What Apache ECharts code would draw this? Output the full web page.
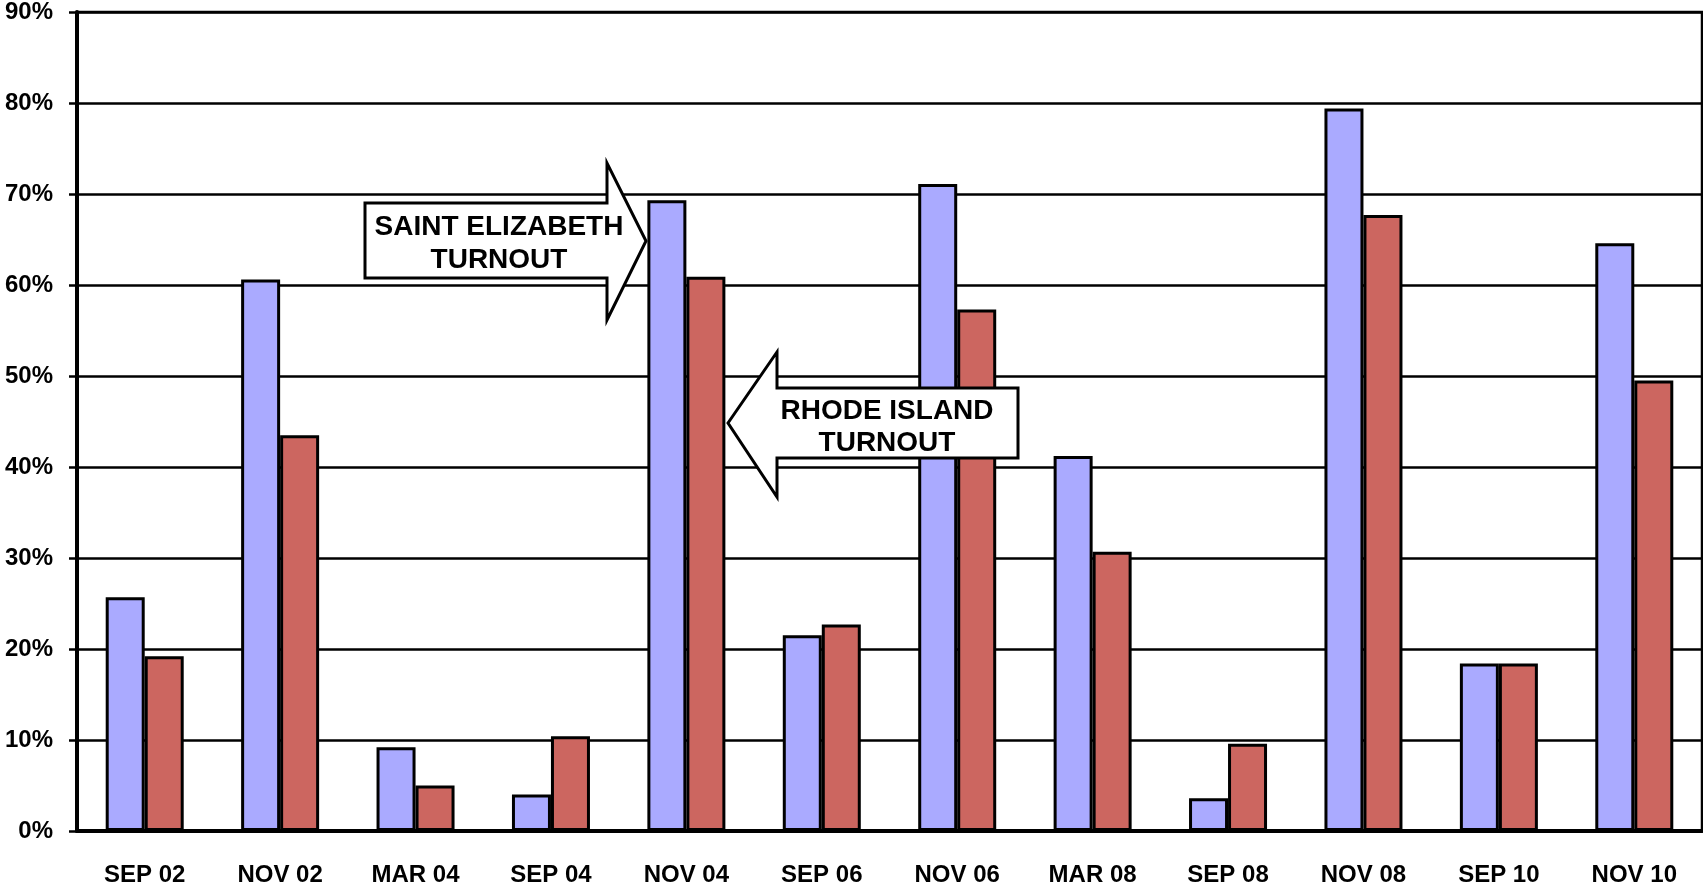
<!DOCTYPE html>
<html>
<head>
<meta charset="utf-8">
<script src="https://cdn.jsdelivr.net/npm/echarts@6/dist/echarts.min.js"></script>
<style>
  html, body { margin: 0; padding: 0; background: #fff; }
  #chart { width: 1703px; height: 887px; }
</style>
</head>
<body>
<div id="chart"></div>
<script>
var categories = ['SEP 02', 'NOV 02', 'MAR 04', 'SEP 04', 'NOV 04', 'SEP 06',
                  'NOV 06', 'MAR 08', 'SEP 08', 'NOV 08', 'SEP 10', 'NOV 10'];
// turnout in percent
var saintElizabeth = [25.7, 60.6, 9.2, 4.0, 69.3, 21.5, 71.1, 41.2, 3.6, 79.4, 18.4, 64.6];
var rhodeIsland    = [19.2, 43.5, 5.0, 10.4, 60.9, 22.7, 57.3, 30.7, 9.6, 67.7, 18.4, 49.5];
var yTicks = { min: 0, max: 90, step: 10 };

var font = 'Liberation Sans, Arial, sans-serif';
var myChart = echarts.init(document.getElementById('chart'));

var option = {
    animation: false,
    backgroundColor: '#fff',
    grid: {
        left: 77, right: 1, top: 10, bottom: 54,
        show: true,
        borderColor: '#000',
        borderWidth: 2.5
    },
    xAxis: {
        type: 'category',
        data: categories,
        axisLine: { lineStyle: { color: '#000', width: 4 } },
        axisTick: { length: 10, lineStyle: { color: '#000', width: 2.5 } },
        axisLabel: {
            margin: 32,
            color: '#000',
            fontFamily: font,
            fontWeight: 'bold',
            fontSize: 24
        }
    },
    yAxis: {
        type: 'value',
        min: yTicks.min,
        max: yTicks.max,
        interval: yTicks.step,
        axisLine: { show: true, lineStyle: { color: '#000', width: 4 } },
        axisTick: { show: true, length: 8, lineStyle: { color: '#000', width: 2.5 } },
        splitLine: { lineStyle: { color: '#000', width: 2.5 } },
        axisLabel: {
            formatter: '{value}%',
            margin: 24,
            color: '#000',
            fontFamily: font,
            fontWeight: 'bold',
            fontSize: 24
        }
    },
    series: [
        {
            name: 'Saint Elizabeth',
            type: 'bar',
            data: saintElizabeth,
            barWidth: 39,
            barGap: '0%',
            itemStyle: { color: '#AAAAFF', borderColor: '#000', borderWidth: 3 }
        },
        {
            name: 'Rhode Island',
            type: 'bar',
            data: rhodeIsland,
            barWidth: 39,
            barGap: '0%',
            itemStyle: { color: '#CC6660', borderColor: '#000', borderWidth: 3 }
        }
    ],
    graphic: [
        {
            type: 'polygon',
            z: 100,
            shape: { points: [[365, 203], [607, 203], [607, 163], [646, 241], [607, 320], [607, 278], [365, 278]] },
            style: { fill: '#fff', stroke: '#000', lineWidth: 3 }
        },
        {
            type: 'text',
            z: 101,
            x: 499, y: 244,
            style: {
                text: 'SAINT ELIZABETH\nTURNOUT',
                align: 'center', verticalAlign: 'middle',
                lineHeight: 33,
                font: 'bold 28px ' + font,
                fill: '#000'
            }
        },
        {
            type: 'polygon',
            z: 100,
            shape: { points: [[728, 423], [777, 352], [777, 388], [1018, 388], [1018, 458], [777, 458], [777, 497]] },
            style: { fill: '#fff', stroke: '#000', lineWidth: 3 }
        },
        {
            type: 'text',
            z: 101,
            x: 887, y: 427,
            style: {
                text: 'RHODE ISLAND\nTURNOUT',
                align: 'center', verticalAlign: 'middle',
                lineHeight: 32,
                font: 'bold 28px ' + font,
                fill: '#000'
            }
        }
    ]
};

if (option && typeof option === 'object') {
    myChart.setOption(option, true);
}
</script>
</body>
</html>
